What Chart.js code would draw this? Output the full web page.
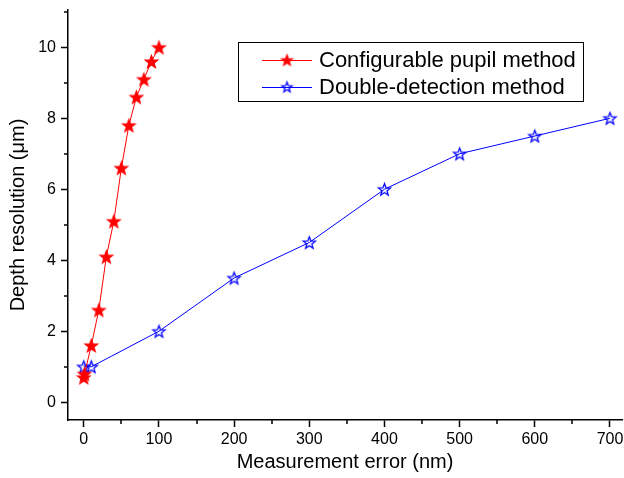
<!DOCTYPE html>
<html>
<head>
<meta charset="utf-8">
<script src="https://cdn.jsdelivr.net/npm/chart.js@4/dist/chart.umd.min.js"></script>
<style>
  html, body { margin: 0; padding: 0; background: #fff; }
  #wrap { width: 624px; height: 478px; }
</style>
</head>
<body>
<div id="wrap"><canvas id="chart" width="624" height="478"></canvas></div>
<script>
// data
const pupilX = [0, 1, 10, 20, 30, 40, 50, 60, 70, 80, 90, 100];
const pupilY = [0.7, 0.8, 1.6, 2.6, 4.1, 5.1, 6.6, 7.8, 8.6, 9.1, 9.6, 10.0];
const doubleX = [0, 10, 100, 200, 300, 400, 500, 600, 700];
const doubleY = [1.0, 1.0, 2.0, 3.5, 4.5, 6.0, 7.0, 7.5, 8.0];
const seriesLabels = ['Configurable pupil method', 'Double-detection method'];
const xTicks = [0, 100, 200, 300, 400, 500, 600, 700];
const yTicks = [0, 2, 4, 6, 8, 10];

const FONT = 'Arial, "Liberation Sans", sans-serif';

// five pointed star drawn into a little canvas, used as point style
function makeStar(r, fill, stroke) {
    var size = Math.ceil(r * 2 + 4);
    var c = document.createElement('canvas');
    c.width = size; c.height = size;
    var g = c.getContext('2d');
    var cx = size / 2, cy = size / 2 + r * 0.1;
    g.beginPath();
    for (var i = 0; i < 10; i++) {
        var rad = i % 2 === 0 ? r : r * 0.42;
        var a = -Math.PI / 2 + i * Math.PI / 5;
        var px = cx + rad * Math.cos(a), py = cy + rad * Math.sin(a);
        if (i === 0) g.moveTo(px, py); else g.lineTo(px, py);
    }
    g.closePath();
    if (fill) { g.fillStyle = fill; g.fill(); }
    g.lineWidth = 1.3;
    g.strokeStyle = stroke;
    g.stroke();
    return c;
}
var redStar = makeStar(6.5, '#ff0000', '#ff0000');
var blueStar = makeStar(6.3, null, '#0000ff');
var redStarSmall = makeStar(5.5, '#ff0000', '#ff0000');
var blueStarSmall = makeStar(5.3, null, '#0000ff');

function toPoints(xs, ys) {
    return xs.map(function (x, i) { return { x: x, y: ys[i] }; });
}

// minor ticks + legend box
var extras = {
    id: 'extras',
    afterDraw: function (chart) {
        var ctx = chart.ctx;
        var xs = chart.scales.x, ys = chart.scales.y;
        var area = chart.chartArea;
        ctx.save();
        ctx.strokeStyle = '#000';
        ctx.lineWidth = 1.5;
        ctx.beginPath();
        for (var v = 50; v <= 650; v += 100) {
            var px = Math.round(xs.getPixelForValue(v));
            ctx.moveTo(px, area.bottom); ctx.lineTo(px, area.bottom + 4);
        }
        for (var w = 1; w <= 11; w += 2) {
            var py = Math.round(ys.getPixelForValue(w));
            if (py < area.top) continue;
            ctx.moveTo(area.left, py); ctx.lineTo(area.left - 4, py);
        }
        ctx.stroke();

        // legend
        ctx.lineWidth = 1;
        ctx.strokeRect(238.5, 42.5, 345, 59);
        var rows = [
            { y: 60, color: '#ff0000', star: redStarSmall, text: seriesLabels[0] },
            { y: 87, color: '#0000ff', star: blueStarSmall, text: seriesLabels[1] }
        ];
        ctx.font = '22px ' + FONT;
        ctx.textBaseline = 'middle';
        rows.forEach(function (r) {
            ctx.strokeStyle = r.color;
            ctx.beginPath();
            ctx.moveTo(262, r.y + 0.5); ctx.lineTo(312, r.y + 0.5);
            ctx.stroke();
            ctx.drawImage(r.star, 287 - r.star.width / 2, r.y - r.star.height / 2);
            ctx.fillStyle = '#000';
            ctx.fillText(r.text, 319, r.y + 1);
        });
        ctx.restore();
    }
};

new Chart(document.getElementById('chart'), {
    type: 'scatter',
    data: {
        datasets: [{
            label: seriesLabels[0],
            data: toPoints(pupilX, pupilY),
            showLine: true,
            borderColor: '#ff0000',
            borderWidth: 1,
            pointStyle: redStar,
            pointRadius: 7
        }, {
            label: seriesLabels[1],
            data: toPoints(doubleX, doubleY),
            showLine: true,
            borderColor: '#0000ff',
            borderWidth: 1,
            pointStyle: blueStar,
            pointRadius: 7
        }]
    },
    options: {
        responsive: false,
        animation: false,
        layout: { autoPadding: false, padding: { top: 10, right: 2, left: 0, bottom: 0 } },
        plugins: { legend: { display: false }, tooltip: { enabled: false } },
        scales: {
            x: {
                type: 'linear',
                min: -21, max: 716,
                afterFit: function (s) { s.height = 58; s.paddingLeft = 0; s.paddingRight = 0; },
                afterBuildTicks: function (s) { s.ticks = xTicks.map(function (v) { return { value: v }; }); },
                grid: { drawOnChartArea: false, tickLength: 7, tickWidth: 1.5, color: '#000' },
                border: { color: '#000', width: 1.5 },
                ticks: { color: '#000', font: { family: FONT, size: 16 }, padding: 3, maxRotation: 0 },
                title: { display: true, text: 'Measurement error (nm)', color: '#000', font: { family: FONT, size: 20 }, padding: { top: 5 } }
            },
            y: {
                type: 'linear',
                min: -0.5, max: 11.05,
                afterFit: function (s) { s.width = 68; s.paddingTop = 0; s.paddingBottom = 0; },
                afterBuildTicks: function (s) { s.ticks = yTicks.map(function (v) { return { value: v }; }); },
                grid: { drawOnChartArea: false, tickLength: 7, tickWidth: 1.5, color: '#000' },
                border: { color: '#000', width: 1.5 },
                ticks: { color: '#000', font: { family: FONT, size: 16 }, padding: 5 },
                title: { display: true, text: 'Depth resolution (\u03bcm)', color: '#000', font: { family: FONT, size: 20 }, padding: { bottom: 0, top: 6 } }
            }
        }
    },
    plugins: [extras]
});
</script>
</body>
</html>
